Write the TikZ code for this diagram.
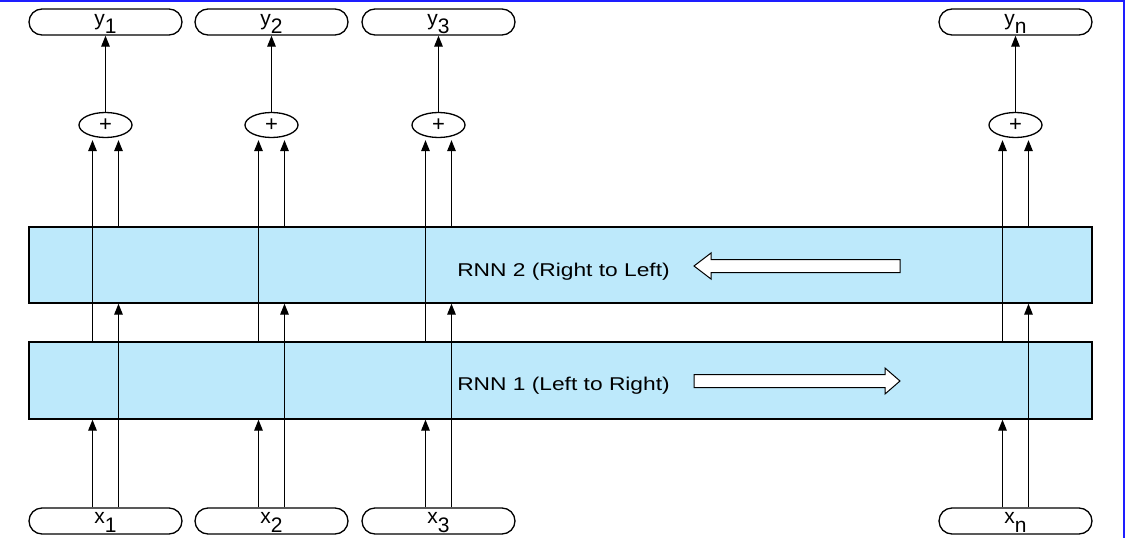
\documentclass[tikz,border=0pt]{standalone}
\usepackage{fontspec}
\usepackage{graphicx}
\setmainfont{Liberation Sans}
\usetikzlibrary{shapes.geometric,arrows.meta}
\definecolor{rnnfill}{RGB}{189,233,251}
\definecolor{frameblue}{RGB}{30,30,255}
\newcommand\sublab[3]{\raisebox{#1}[0pt][0pt]{#2\raisebox{-9pt}{#3}}}
\begin{document}
\begin{tikzpicture}[x=1pt,y=-1pt,
  io/.style={draw,line width=1.3pt,rounded corners=13pt,minimum width=153pt,minimum height=26pt,inner sep=0pt,font=\fontsize{21pt}{21pt}\selectfont},
  sumnode/.style={draw,ellipse,line width=1.3pt,minimum width=53pt,minimum height=25pt,inner sep=0pt,font=\fontsize{22pt}{22pt}\selectfont},
  rnnbox/.style={draw,fill=rnnfill,line width=1.3pt,minimum width=1063pt,minimum height=76pt,inner sep=0pt},
  lbl/.style={font=\fontsize{18.5pt}{18.5pt}\selectfont,anchor=base,inner sep=0pt},
  arr/.style={line width=1.3pt,-{Triangle[length=11pt,width=8.5pt]}},
  hollow/.style={draw,fill=white,line width=1pt}
]
\useasboundingbox (0,0) rectangle (1125,538);
\fill[white] (0,0) rectangle (1125,538);

\foreach \n/\cx/\s in {1/105.5/1, 2/271.5/2, 3/438.5/3, n/1015.5/n} {
  \node[io] (y\n) at (\cx,22) {\sublab{-3pt}{y}{\s}};
  \node[sumnode] (p\n) at (\cx,125) {\raisebox{-1pt}{+}};
  \node[io] (x\n) at (\cx,521) {\sublab{-2pt}{x}{\s}};
}

\node[rnnbox] (r2) at (560.5,265) {};
\node[rnnbox,minimum height=77pt] (r1) at (560.5,380.5) {};
\node[lbl] (t2) at (563.5,276) {\scalebox{1.23}[1]{RNN 2 (Right to Left)}};
\node[lbl] (t1) at (563.5,390) {\scalebox{1.23}[1]{RNN 1 (Left to Right)}};

\draw[hollow] (694,266) -- (711,253) -- (711,259.5) -- (900,259.5) -- (900,272.5) -- (711,272.5) -- (711,279) -- cycle;
\draw[hollow] (694,374.5) -- (885,374.5) -- (885,368) -- (900,381) -- (885,394) -- (885,387.5) -- (694,387.5) -- cycle;

\foreach \n in {1,2,3,n} {
  \draw[arr] ([xshift=-13pt]x\n.north) -- ([xshift=-13pt]x\n.north |- r1.south);
  \draw[arr] ([xshift=13pt]x\n.north) -- ([xshift=13pt]x\n.north |- r2.south);
  \draw[arr] ([xshift=-13pt]x\n.north |- r1.north) -- ([xshift=-13pt,yshift=-2pt]p\n.south);
  \draw[arr] ([xshift=13pt]x\n.north |- r2.north) -- ([xshift=13pt,yshift=-2pt]p\n.south);
  \draw[arr] (p\n.north) -- (y\n.south);
}

\draw[frameblue,line width=2pt] (0,1) -- (1124,1) -- (1124,538);
\end{tikzpicture}
\end{document}
